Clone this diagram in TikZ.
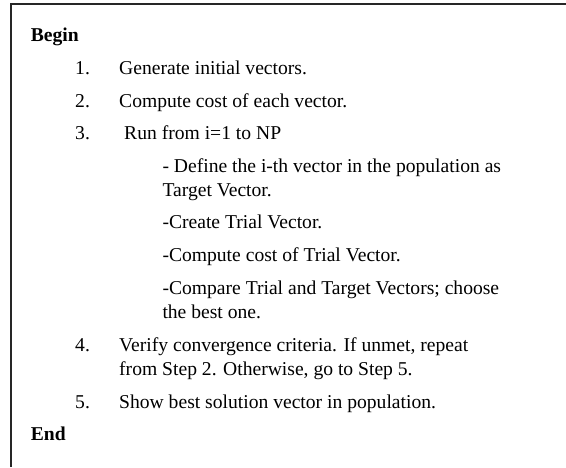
\documentclass[tikz,border=0pt]{standalone}
\usepackage{fontspec}
\setmainfont{Liberation Serif}
\usetikzlibrary{positioning}

\begin{document}
\begin{tikzpicture}[x=1pt, y=-1pt,
			txt/.style={anchor=base west, inner sep=0pt, font=\fontsize{19.6}{24}\selectfont},
			head/.style={txt, font=\fontsize{19.6}{24}\selectfont\bfseries},
			frame/.style={line width=2pt, black!85}]

			\useasboundingbox (0,0) rectangle (566,467);
			\draw[frame] (11,467) -- (11,3.5) -- (566,3.5);

			\node[head] (begin) at (30.7,41.5) {Begin};

			\node[txt] (n1) at (75,74.5) {1.};
			\node[txt] (s1) at (119,74.5) {Generate initial vectors.};
			\node[txt] (n2) at (75,107) {2.};
			\node[txt] (s2) at (119,107) {Compute cost of each vector.};
			\node[txt] (n3) at (75,139.5) {3.};
			\node[txt] (s3) at (124,139.5) {Run from i=1 to NP};

			\node[txt] (d1) at (162.3,172) {- Define the i-th vector in the population as};
			\node[txt] (d2) at (162.3,196) {Target Vector.};
			\node[txt] (c1) at (162.3,228.5) {-Create Trial Vector.};
			\node[txt] (c2) at (162.3,261.5) {-Compute cost of Trial Vector.};
			\node[txt] (c3) at (162.3,294) {-Compare Trial and Target Vectors; choose};
			\node[txt] (c4) at (162.3,318) {the best one.};

			\node[txt] (n4) at (75,351) {4.};
			\node[txt] (s4) at (119,351) {Verify convergence criteria. If unmet, repeat};
			\node[txt] (s4b) at (119,375) {from Step 2. Otherwise, go to Step 5.};
			\node[txt] (n5) at (75,408) {5.};
			\node[txt] (s5) at (119,408) {Show best solution vector in population.};

			\node[head] (end) at (30.7,440.5) {End};
		\end{tikzpicture}
\end{document}
